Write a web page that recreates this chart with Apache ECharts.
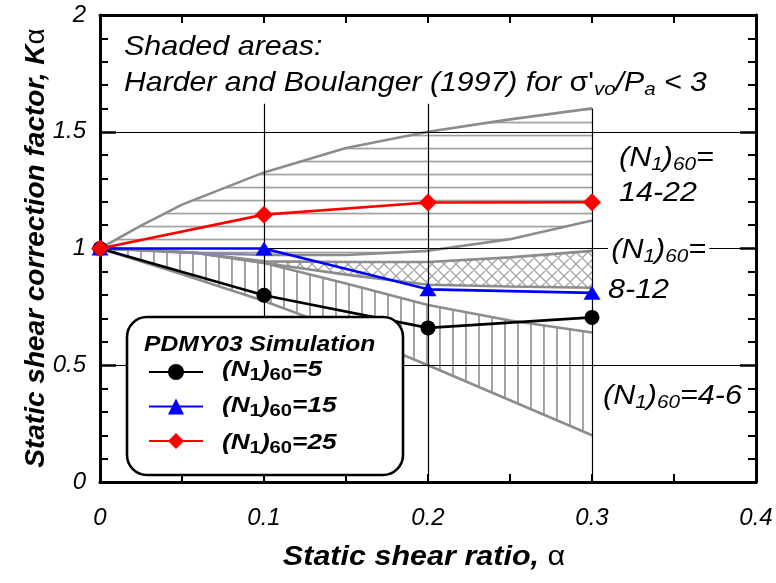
<!DOCTYPE html>
<html>
<head>
<meta charset="utf-8">
<script src="https://cdn.jsdelivr.net/npm/echarts@6/dist/echarts.min.js"></script>
<style>
html,body{margin:0;padding:0;background:#fff}
#main{width:776px;height:583px}
</style>
</head>
<body>
<div id="main"></div>
<script>
// PDMY03 simulation results
var alphaPts = [0, 0.1, 0.2, 0.3];
var kN5  = [1.0, 0.80, 0.66, 0.705];
var kN15 = [1.0, 1.0, 0.825, 0.81];
var kN25 = [1.0, 1.145, 1.197, 1.198];
var seriesNames = ['(N1)60=5', '(N1)60=15', '(N1)60=25'];
var legendVals = ['5', '15', '25'];

// Harder and Boulanger (1997) bands, [alpha, K]
var hb1422Up = [[0,1],[0.025,1.098],[0.05,1.188],[0.1,1.326],[0.15,1.43],[0.2,1.5],[0.25,1.553],[0.3,1.6]];
var hb1422Lo = [[0,1],[0.05,0.983],[0.1,0.972],[0.15,0.972],[0.2,0.99],[0.25,1.04],[0.3,1.12]];
var hb812Up  = [[0,1],[0.03,0.993],[0.06,0.98],[0.1,0.945],[0.15,0.942],[0.2,0.942],[0.25,0.962],[0.3,0.99]];
var hb812Lo  = [[0,1],[0.03,0.993],[0.06,0.98],[0.1,0.938],[0.15,0.888],[0.2,0.845],[0.25,0.837],[0.3,0.832]];
var hb46Up   = [[0,1],[0.03,0.993],[0.06,0.98],[0.1,0.938],[0.15,0.85],[0.2,0.758],[0.25,0.692],[0.3,0.64]];
var hb46Lo   = [[0,1],[0.05,0.89],[0.1,0.775],[0.15,0.645],[0.2,0.5],[0.25,0.35],[0.3,0.2]];

// axes
var xTickLabels = ['0', '0.1', '0.2', '0.3', '0.4'];
var yTickLabels = ['0', '0.5', '1', '1.5', '2'];
var vGrid = [[0.1, 1.62], [0.2, 1.62], [0.3, 1.6]];   // vertical lines: x, top
var hGrid = [0.5, 1, 1.5];

var FONT = 'Liberation Sans';
var chart = echarts.init(document.getElementById('main'));

// hatch patterns
function makePattern(kind) {
    var c = document.createElement('canvas');
    var ctx;
    if (kind === 'h') {
        c.width = 6; c.height = 13;
        ctx = c.getContext('2d');
        ctx.fillStyle = '#a0a0a0';
        ctx.fillRect(0, 4.7, 6, 1.7);
    } else if (kind === 'v') {
        c.width = 13; c.height = 6;
        ctx = c.getContext('2d');
        ctx.fillStyle = '#a0a0a0';
        ctx.fillRect(10, 0, 1.9, 6);
    } else {
        c.width = 12; c.height = 12;
        ctx = c.getContext('2d');
        ctx.strokeStyle = '#a4a4a4';
        ctx.lineWidth = 1.3;
        ctx.beginPath();
        for (var k = -12; k <= 12; k += 12) {
            ctx.moveTo(k, 0); ctx.lineTo(k + 12, 12);
            ctx.moveTo(k, 12); ctx.lineTo(k + 12, 0);
        }
        ctx.stroke();
    }
    return {type: 'pattern', image: c, repeat: 'repeat'};
}

function bandSeries(up, lo, pattern) {
    return {
        type: 'custom',
        coordinateSystem: 'cartesian2d',
        silent: true,
        z: 1,
        data: [[0, 1]],
        renderItem: function (params, api) {
            var pts = up.map(function (p) { return api.coord(p); });
            lo.slice().reverse().forEach(function (p) { pts.push(api.coord(p)); });
            return {type: 'polygon', shape: {points: pts}, style: {fill: pattern, stroke: null}};
        }
    };
}

function edgeSeries(pts) {
    return {
        type: 'line', data: pts, symbol: 'none', silent: true, z: 2,
        lineStyle: {color: '#8c8c8c', width: 2.6}
    };
}

function simSeries(name, vals, color, symbol, size) {
    return {
        type: 'line', name: name, z: 5, clip: false,
        data: alphaPts.map(function (a, i) { return [a, vals[i]]; }),
        symbol: symbol, symbolSize: size, showSymbol: true,
        lineStyle: {color: color, width: 2.6},
        itemStyle: {color: color}
    };
}

// rich text: m = main italic, s = lowered subscript, g = upright greek
function annoRich(size, sub, pad, bold, subItalic) {
    var w = bold ? 'bold' : 'normal';
    return {
        m: {fontSize: size, fontFamily: FONT, fontStyle: 'italic', fontWeight: w, fill: '#000', verticalAlign: 'top'},
        s: {fontSize: sub, fontFamily: FONT, fontStyle: subItalic ? 'italic' : 'normal', fontWeight: w, fill: '#000',
            verticalAlign: 'top', padding: [pad, 0, 0, 0]},
        g: {fontSize: size, fontFamily: FONT, fontStyle: 'normal', fontWeight: 'normal', fill: '#000', verticalAlign: 'top'}
    };
}
var r28 = annoRich(28, 19, 11, false, true);
var rLeg = annoRich(22, 17, 8, true, false);

// x, y = left edge and top of the main text line
function textEl(x, y, str, rich, sx, extra) {
    var el = {
        type: 'text', x: x, y: y, z: 100, silent: true, scaleX: sx || 1,
        style: {text: str, rich: rich, align: 'left', verticalAlign: 'top'}
    };
    if (extra) { for (var k in extra) el.style[k] = extra[k]; }
    return el;
}
function nText(v) { return '{m|(N}{s|1}{m|)}{s|60}{m|=' + v + '}'; }

var gridLineData = vGrid.map(function (v) {
    return [{coord: [v[0], 0]}, {coord: [v[0], v[1]]}];
}).concat(hGrid.map(function (h) {
    return [{coord: [0, h]}, {coord: [0.4, h]}];
}));

var axisCommon = {
    type: 'value',
    axisLine: {show: true, onZero: false, lineStyle: {color: '#000', width: 3}},
    splitLine: {show: false}
};

var legendRows = [359, 395, 432];
var graphics = [
    // legend box
    {type: 'rect', z: 50, silent: true,
        shape: {x: 127, y: 317, width: 276, height: 158, r: 20},
        style: {fill: '#fff', stroke: '#000', lineWidth: 2.6}},
    textEl(144, 334, '{m|PDMY03 Simulation}', annoRich(22, 15, 0, true, false), 1.12),
    // notes
    textEl(124, 33, '{m|Shaded areas:}', r28, 1.09),
    textEl(124, 69, '{m|Harder and Boulanger (1997) for }{g|\u03c3\'}{s|vo}{m|/P}{s|a}{m| < 3}', r28, 1.08),
    textEl(619, 144, nText(''), r28, 1.09),
    textEl(619, 179, '{m|14-22}', r28, 1.09),
    textEl(608, 236, nText(''), r28, 1.09, {backgroundColor: '#fff', padding: [0, 3, 0, 3]}),
    textEl(608, 276, '{m|8-12}', r28, 1.09),
    textEl(603, 382, nText('4-6'), r28, 1.09),
    // axis titles
    {type: 'text', z: 100, silent: true, x: 36, y: 248, rotation: Math.PI / 2,
        style: {text: '{t|Static shear correction factor, K}{a|\u03b1}', align: 'center', verticalAlign: 'middle',
            rich: {t: {font: 'italic bold 28px "Liberation Sans"', fill: '#000'},
                   a: {font: '28px "Liberation Sans"', fill: '#000'}}}},
    {type: 'text', z: 100, silent: true, x: 424, y: 557, scaleX: 1.09,
        style: {text: '{t|Static shear ratio, }{a|\u03b1}', align: 'center', verticalAlign: 'middle',
            rich: {t: {font: 'italic bold 28px "Liberation Sans"', fill: '#000'},
                   a: {font: '28px "Liberation Sans"', fill: '#000'}}}}
];
legendVals.forEach(function (v, i) {
    graphics.push(textEl(222, legendRows[i], nText(v), rLeg, 1.19));
});

var option = {
    animation: false,
    backgroundColor: '#fff',
    grid: {left: 100, right: 20, top: 15, bottom: 101},
    xAxis: [
        echarts.util.merge({
            min: 0, max: 0.4, interval: 0.1, position: 'bottom',
            axisTick: {inside: true, length: 8, lineStyle: {color: '#000', width: 2}},
            minorTick: {show: true, splitNumber: 2, length: 8, lineStyle: {color: '#000', width: 2}},
            axisLabel: {margin: 24, color: '#000', fontFamily: FONT, fontStyle: 'italic', fontSize: 24,
                formatter: function (v, i) { return xTickLabels[i]; }}
        }, axisCommon, true),
        echarts.util.merge({
            min: 0, max: 0.4, interval: 0.1, position: 'top',
            axisTick: {inside: true, length: 8, lineStyle: {color: '#000', width: 2}},
            minorTick: {show: true, splitNumber: 2, length: 8, lineStyle: {color: '#000', width: 2}},
            axisLabel: {show: false}
        }, axisCommon, true)
    ],
    yAxis: [
        echarts.util.merge({
            min: 0, max: 2, interval: 0.5, position: 'left',
            axisTick: {inside: true, length: 16, lineStyle: {color: '#000', width: 2.5}},
            minorTick: {show: true, splitNumber: 5, length: 8, lineStyle: {color: '#000', width: 2}},
            axisLabel: {margin: 14, color: '#000', fontFamily: FONT, fontStyle: 'italic', fontSize: 24,
                formatter: function (v, i) { return yTickLabels[i]; }}
        }, axisCommon, true),
        echarts.util.merge({
            min: 0, max: 2, interval: 0.5, position: 'right',
            axisTick: {inside: true, length: 16, lineStyle: {color: '#000', width: 2.5}},
            minorTick: {show: true, splitNumber: 5, length: 8, lineStyle: {color: '#000', width: 2}},
            axisLabel: {show: false}
        }, axisCommon, true)
    ],
    legend: {
        orient: 'vertical', left: 148, top: 362, padding: 0, itemGap: 16.5,
        itemWidth: 54, itemHeight: 20, z: 60, selectedMode: false,
        data: seriesNames,
        formatter: function () { return ''; },
        textStyle: {fontSize: 1}
    },
    graphic: graphics,
    series: [
        bandSeries(hb1422Up, hb1422Lo, makePattern('h')),
        bandSeries(hb46Up, hb46Lo, makePattern('v')),
        bandSeries(hb812Up, hb812Lo, makePattern('x')),
        edgeSeries(hb1422Up), edgeSeries(hb1422Lo),
        edgeSeries(hb812Up), edgeSeries(hb812Lo),
        edgeSeries(hb46Up), edgeSeries(hb46Lo),
        {
            type: 'line', data: [], silent: true, z: 3,
            markLine: {
                silent: true, symbol: 'none', animation: false,
                label: {show: false},
                lineStyle: {color: '#000', width: 1.2, type: 'solid'},
                data: gridLineData
            }
        },
        simSeries(seriesNames[0], kN5, '#000', 'circle', 15),
        simSeries(seriesNames[1], kN15, '#0000ff', 'triangle', [17, 14]),
        simSeries(seriesNames[2], kN25, '#ff0000', 'diamond', [18, 18])
    ]
};
chart.setOption(option);
</script>
</body>
</html>
